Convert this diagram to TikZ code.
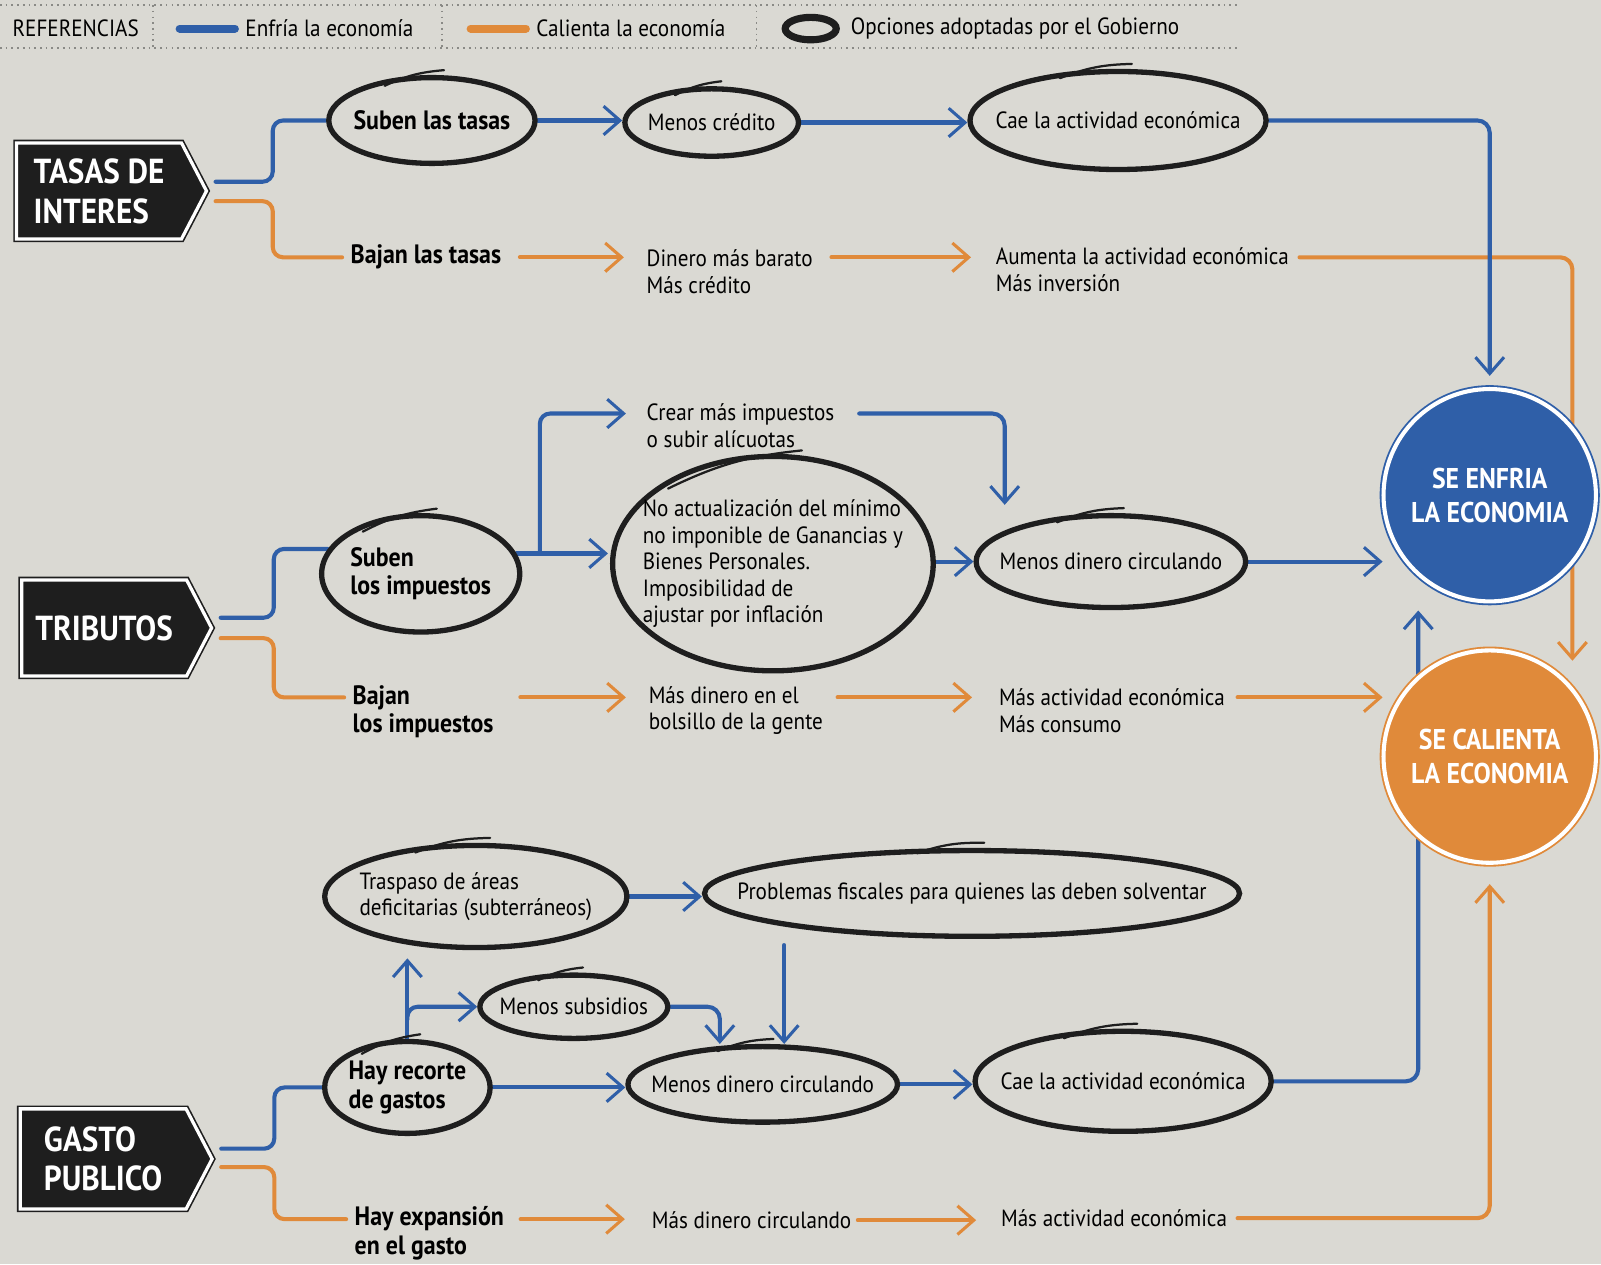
\documentclass[tikz,border=0pt]{standalone}
\usepackage{fontspec}
\setmainfont{PT Sans}[FakeStretch=0.9]
\usetikzlibrary{positioning,shapes.geometric,shapes.symbols,arrows.meta,calc}

\definecolor{paper}{HTML}{DAD9D3}
\definecolor{ink}{HTML}{1E1E1E}
\definecolor{coolblue}{HTML}{2F5FA8}
\definecolor{hotorange}{HTML}{E08A3A}
\definecolor{dotgray}{HTML}{8A8A86}

\pgfdeclarelayer{paperlayer}
\pgfdeclarelayer{lines}
\pgfsetlayers{paperlayer,lines,main}

\tikzset{
  tema/.style={signal, signal to=east, signal pointer angle=125, fill=ink, draw=ink,
    double=white, double distance=1.6pt, line width=0.8pt, text=white, align=left,
    font=\bfseries\fontsize{17}{19.5}\selectfont},
  resultado/.style={circle, draw=#1, fill=#1, double=white, double distance=2pt,
    line width=0.9pt, minimum size=104pt, text=white, align=center,
    font=\bfseries\fontsize{14}{16.5}\selectfont},
  % the loop is as large as asked, whatever the text inside it
  opcion/.style={ellipse, draw=ink, line width=2.6pt, inner xsep=-100pt, inner ysep=-60pt,
    align=left, font=\fontsize{11.5}{13}\selectfont},
  opcionb/.style={opcion, font=\bfseries\fontsize{13}{14}\selectfont},
  texto/.style={inner sep=0pt, align=left, font=\fontsize{11.5}{13}\selectfont},
  textob/.style={inner sep=0pt, align=left, font=\bfseries\fontsize{13}{14}\selectfont},
  leyenda/.style={inner sep=0pt, font=\fontsize{11.5}{13}\selectfont},
  frio/.style={draw=coolblue, line width=2pt, line cap=round},
  calor/.style={draw=hotorange, line width=2pt, line cap=round},
  frioflecha/.style={frio, -{Straight Barb[length=8pt,width=14pt,line width=1.5pt]}},
  calorflecha/.style={calor, -{Straight Barb[length=8pt,width=14pt,line width=1.5pt]}},
  trazo/.style={draw=ink, line width=1.1pt, line cap=round}
}

\begin{document}
\begin{tikzpicture}[x=0.5pt, y=-0.5pt]
\useasboundingbox (0,0) rectangle (1568,1238);
\begin{pgfonlayer}{paperlayer}
  \fill[paper] (0,0) rectangle (1568,1238);
\end{pgfonlayer}

% referencias
\draw[dotgray, dotted, line width=0.8pt] (0,5) -- (1215,5) (0,47) -- (1215,47);
\foreach \sx in {150,433,741}
  \draw[dotgray, dotted, line width=0.8pt] (\sx,5) -- (\sx,47);
\node[leyenda, anchor=west] (refs) at (12,28) {REFERENCIAS};
\node[leyenda, anchor=west] (leyFrio) at (240,28) {Enfría la economía};
\node[leyenda, anchor=west] (leyCalor) at (525,28) {Calienta la economía};
\node[leyenda, anchor=west] (leyOpc) at (833,28) {Opciones adoptadas por el Gobierno};
\draw[coolblue, line width=4pt, line cap=round] ([xshift=-32pt]leyFrio.west) -- ([xshift=-5pt]leyFrio.west);
\draw[hotorange, line width=4pt, line cap=round] ([xshift=-32pt]leyCalor.west) -- ([xshift=-5pt]leyCalor.west);
\draw[ink, line width=3.5pt] ([xshift=-19.5pt]leyOpc.west) ellipse (12.5pt and 5.5pt);

% temas
\node[tema, minimum width=93pt, minimum height=47pt] (tasas) at (97,187) {TASAS DE\\INTERES};
\node[tema, minimum width=93pt, minimum height=47pt] (tributos) at (102,615) {TRIBUTOS};
\node[tema, minimum width=94pt, minimum height=49pt] (gasto) at (101,1135) {GASTO\\PUBLICO};

% resultados
\node[resultado=coolblue] (enfria) at (1459,485) {SE ENFRIA\\LA ECONOMIA};
\node[resultado=hotorange] (calienta) at (1459,741) {SE CALIENTA\\LA ECONOMIA};

% tasas de interes
\node[opcionb, minimum width=101pt, minimum height=42pt] (subenT) at (423,118) {Suben las tasas};
\node[opcion, minimum width=85pt, minimum height=33pt] (menosCred) at (697,120) {Menos crédito};
\node[opcion, minimum width=145pt, minimum height=48pt] (caeT) at (1095,118) {Cae la actividad económica};
\node[textob, anchor=west] (bajanT) at (343,252) {Bajan las tasas};
\node[texto, anchor=west] (dinero) at (633,266) {Dinero más barato\\Más crédito};
\node[texto, anchor=west] (aumenta) at (975,264) {Aumenta la actividad económica\\Más inversión};

% tributos
\node[opcionb, minimum width=97pt, minimum height=57pt] (subenI) at (412,562) {Suben\\los impuestos};
\node[texto, anchor=west] (crear) at (633,417) {Crear más impuestos\\o subir alícuotas};
\node[opcion, minimum width=157pt, minimum height=105pt] (noAct) at (757,552)
  {No actualización del mínimo\\no imponible de Ganancias y\\Bienes Personales.\\Imposibilidad de\\ajustar por inflación};
\node[opcion, minimum width=132pt, minimum height=45pt] (menosDinT) at (1088,550) {Menos dinero circulando};
\node[textob, anchor=west] (bajanI) at (345,697) {Bajan\\los impuestos};
\node[texto, anchor=west] (masDinB) at (635,696) {Más dinero en el\\bolsillo de la gente};
\node[texto, anchor=west] (masAct) at (978,696) {Más actividad económica\\Más consumo};

% gasto publico
\node[opcion, minimum width=148pt, minimum height=50pt] (traspaso) at (466,878) {Traspaso de áreas\\deficitarias (subterráneos)};
\node[opcion, minimum width=262pt, minimum height=42pt] (problemas) at (952,875) {Problemas fiscales para quienes las deben solventar};
\node[opcion, minimum width=92pt, minimum height=31pt] (subsidios) at (562,986) {Menos subsidios};
\node[opcionb, minimum width=81pt, minimum height=45pt] (recorte) at (399,1065) {Hay recorte\\de gastos};
\node[opcion, minimum width=132pt, minimum height=37pt] (menosDinG) at (747,1062) {Menos dinero circulando};
\node[opcion, minimum width=145pt, minimum height=49pt] (caeG) at (1100,1059) {Cae la actividad económica};
\node[textob, anchor=west] (expansion) at (347,1208) {Hay expansión\\en el gasto};
\node[texto, anchor=west] (masDinC) at (638,1195) {Más dinero circulando};
\node[texto, anchor=west] (masActG) at (980,1193) {Más actividad económica};

% trazo de cierre de los circulos a mano
\foreach \n in {subenT,menosCred,caeT,subenI,noAct,menosDinT,traspaso,problemas,subsidios,recorte,menosDinG,caeG}
  \draw[trazo] ([shift={(4pt,-2pt)}]\n.145) to[bend left=10] ([yshift=2.5pt]\n.75);

\begin{pgfonlayer}{lines}
  % calienta la economia
  \draw[calor, rounded corners=5pt, shorten >=4pt] ([xshift=4pt,yshift=-5pt]tasas.east) -- ++(28pt,0) |- (bajanT.west);
  \draw[calorflecha, shorten <=9pt, shorten >=11pt] (bajanT.east) -- (bajanT.east -| dinero.west);
  \draw[calorflecha, shorten <=9pt, shorten >=12pt] (dinero.east |- bajanT.east) -- (aumenta.west |- bajanT.east);
  \draw[calorflecha, rounded corners=6pt, shorten <=5pt] (aumenta.east |- bajanT.east) -| ([xshift=40.5pt,yshift=-5.5pt]calienta.north);

  \draw[calor, rounded corners=5pt, shorten >=4pt] ([xshift=4pt,yshift=-5pt]tributos.east) -- ++(26pt,0) |- ([yshift=7pt]bajanI.west);
  \draw[calorflecha, shorten <=13pt, shorten >=11pt] ([yshift=7pt]bajanI.east) -- ([yshift=7pt]bajanI.east -| masDinB.west);
  \draw[calorflecha, shorten <=7pt, shorten >=13pt] ([yshift=7pt]bajanI.east -| masDinB.east) -- ([yshift=7pt]bajanI.east -| masAct.west);
  \draw[calorflecha, shorten <=6pt] ([yshift=7pt]bajanI.east -| masAct.east) -- ([yshift=7pt]bajanI.east -| calienta.west);

  \draw[calor, rounded corners=5pt, shorten >=4pt] ([xshift=4pt,yshift=-4pt]gasto.east) -- ++(26pt,0) |- ([yshift=7pt]expansion.west);
  \draw[calorflecha, shorten <=8pt, shorten >=13pt] ([yshift=7pt]expansion.east) -- ([yshift=7pt]expansion.east -| masDinC.west);
  \draw[calorflecha, shorten <=3pt, shorten >=12pt] (masDinC.east) -- (masDinC.east -| masActG.west);
  \draw[calorflecha, rounded corners=6pt, shorten <=5pt, shorten >=10pt] (masActG.east) -| (calienta.south);

  % enfria la economia
  \draw[frio, rounded corners=5pt] ([xshift=4pt,yshift=4.5pt]tasas.east) -- ++(28pt,0) |- (subenT.west);
  \draw[frioflecha] (subenT.east) -- (subenT.east -| menosCred.west);
  \draw[frioflecha] (menosCred.east) -- (menosCred.east -| caeT.west);
  \draw[frioflecha, rounded corners=6pt, shorten >=6pt] (caeT.east) -| (enfria.north);

  \draw[frio, rounded corners=5pt] ([xshift=4pt,yshift=5pt]tributos.east) -- ++(26pt,0) |- (subenI.165);
  \draw[frioflecha, shorten >=1pt] (subenI.12) -- (subenI.12 -| noAct.west);
  \draw[frioflecha, rounded corners=5pt, shorten >=10pt] ($(subenI.12)!0.25!(subenI.12 -| noAct.west)$) |- ([yshift=6pt]crear.west);
  \draw[frioflecha, rounded corners=6pt, shorten <=12pt, shorten >=4pt] ([yshift=6pt]crear.east) -| ([xshift=-52pt]menosDinT.north);
  \draw[frioflecha] (noAct.east |- menosDinT.west) -- (menosDinT.west);
  \draw[frioflecha] (menosDinT.east) -- (menosDinT.east -| enfria.west);

  \draw[frio, rounded corners=5pt] ([xshift=4pt,yshift=5pt]gasto.east) -- ++(26pt,0) |- (recorte.west);
  \draw[frioflecha] (recorte.east) -- (recorte.east -| menosDinG.west);
  \draw[frioflecha, shorten >=4pt] (recorte.north) -- (recorte.north |- traspaso.south);
  \draw[frioflecha, rounded corners=5pt] ($(recorte.north)!0.22!(recorte.north |- traspaso.south)$) |- (subsidios.west);
  \draw[frioflecha] (traspaso.east) -- (traspaso.east -| problemas.west);
  \draw[frioflecha, shorten <=3pt] ([xshift=-92pt]problemas.south) -- ([xshift=-92pt]problemas.south |- menosDinG.north);
  \draw[frioflecha, rounded corners=6pt] (subsidios.east) -| ([xshift=-21pt]menosDinG.north);
  \draw[frioflecha] (menosDinG.east) -- (menosDinG.east -| caeG.west);
  \draw[frioflecha, rounded corners=6pt, shorten >=4pt] (caeG.east) -| ([xshift=-35pt]enfria.south);
\end{pgfonlayer}
\end{tikzpicture}
\end{document}
